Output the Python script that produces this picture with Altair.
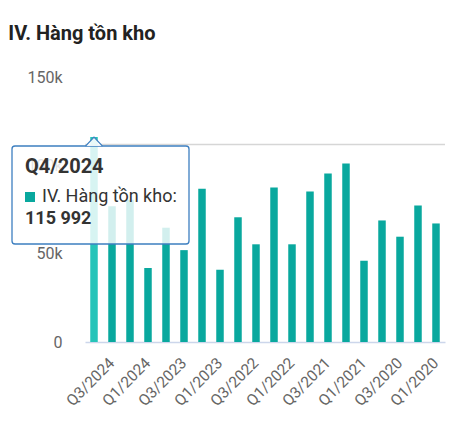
import altair as alt
import pandas as pd

# ---- data ----
quarters = ["Q4/2024", "Q3/2024", "Q2/2024", "Q1/2024", "Q4/2023", "Q3/2023",
            "Q2/2023", "Q1/2023", "Q4/2022", "Q3/2022", "Q2/2022", "Q1/2022",
            "Q4/2021", "Q3/2021", "Q2/2021", "Q1/2021", "Q4/2020", "Q3/2020",
            "Q2/2020", "Q1/2020"]
inventory = [115992, 76800, 80500, 41900, 64700, 52000,
             86800, 40900, 70600, 55300, 87500, 55300,
             85200, 95400, 101100, 46000, 68800, 59600,
             77300, 67100]
series_name = "IV. Hàng tồn kho"
hover_index = 0
crosshair_value = [111800]
y_ticks = [0, 50000, 100000, 150000]
x_label_quarters = quarters[1::2]

FONT = "Roboto"
BAR = "#09a89e"
BAR_HOVER = "#26c4b9"
W, H = 360, 265

df = pd.DataFrame({"quarter": quarters, "value": inventory})
hover_df = df.iloc[[hover_index]].copy()
tip_df = pd.DataFrame({
    "header": [quarters[hover_index]],
    "label": [series_name + ":"],
    "val": [f"{inventory[hover_index]:,}".replace(",", " ")],
})

x_enc = alt.X("quarter:N", sort=quarters,
              scale=alt.Scale(paddingInner=0, paddingOuter=0),
              axis=alt.Axis(values=x_label_quarters, labelAngle=-45,
                            labelAlign="right", labelBaseline="middle",
                            labelFontSize=15.5, labelColor="#666666",
                            labelPadding=18, ticks=False,
                            domainColor="#ccd6eb", domainWidth=1.5, title=None,
                            labelFont=FONT))
y_enc = alt.Y("value:Q", scale=alt.Scale(domain=[0, 150000], nice=False),
              axis=alt.Axis(values=y_ticks,
                            labelExpr="datum.value == 0 ? '0' : datum.value / 1000 + 'k'",
                            grid=False, ticks=False, domain=False, labelPadding=23,
                            labelFontSize=16, labelColor="#666666", title=None,
                            labelFont=FONT))

bars = alt.Chart(df).mark_bar(size=7.5).encode(
    x=x_enc, y=y_enc,
    color=alt.condition(alt.datum.quarter == quarters[hover_index],
                        alt.value(BAR_HOVER), alt.value(BAR)),
)

rule = alt.Chart(pd.DataFrame({"v": crosshair_value})).mark_rule(
    color="#d6d6d6", strokeWidth=1.5
).encode(y=alt.Y("v:Q"), x=alt.value(0), x2=alt.value(W))

box = alt.Chart(tip_df).mark_rect(
    fill="white", fillOpacity=0.82, stroke="#3d7fc0", strokeWidth=1.3, cornerRadius=3
).encode(x=alt.value(-73), x2=alt.value(104), y=alt.value(69), y2=alt.value(167))

pointer = alt.Chart(hover_df).mark_point(
    shape="M-1,1.06L0,0L1,1.06", size=289, fill="white", fillOpacity=0.9,
    stroke="#3d7fc0", strokeWidth=1.3, opacity=1
).encode(x=alt.X("quarter:N", sort=quarters), y=alt.Y("value:Q"))

header = alt.Chart(tip_df).mark_text(
    align="left", baseline="middle", font=FONT, fontSize=20, fontWeight="bold", color="#333333"
).encode(x=alt.value(-60), y=alt.value(90), text="header:N")

square = alt.Chart(tip_df).mark_square(size=100, color=BAR, opacity=1).encode(
    x=alt.value(-55), y=alt.value(120))

label = alt.Chart(tip_df).mark_text(
    align="left", baseline="middle", font=FONT, fontSize=18, color="#333333"
).encode(x=alt.value(-43), y=alt.value(120), text="label:N")

value = alt.Chart(tip_df).mark_text(
    align="left", baseline="middle", font=FONT, fontSize=18, fontWeight="bold", color="#333333"
).encode(x=alt.value(-60), y=alt.value(142), text="val:N")

chart = alt.layer(rule, bars, box, pointer, header, square, label, value).properties(
    width=W, height=H,
    title=alt.TitleParams(series_name, anchor="start", fontSize=20, font=FONT,
                          fontWeight="bold", color="#222222", dx=-3, offset=25),
    autosize=alt.AutoSizeParams(type="none"),
    padding={"left": 77, "top": 69, "right": 20, "bottom": 80},
).configure(font=FONT).configure_view(stroke=None)

chart.save("out.html", embed_options={"renderer": "svg", "actions": False})
